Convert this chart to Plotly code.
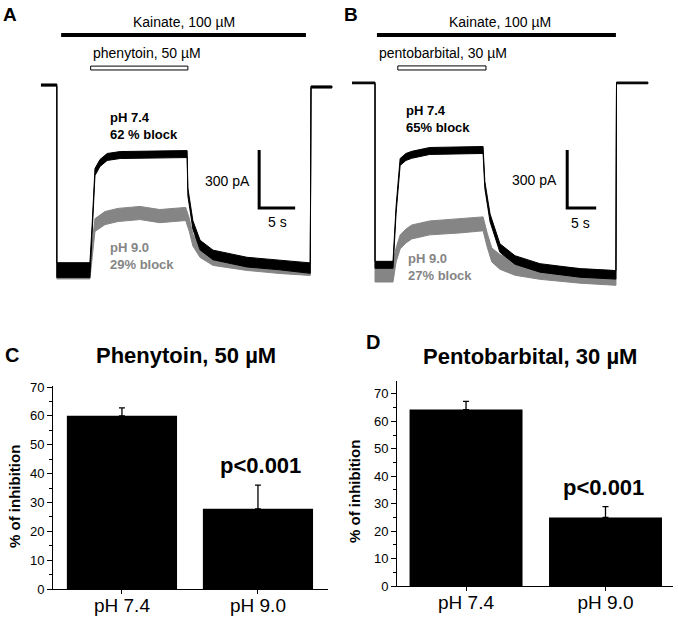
import plotly.graph_objects as go

W, H = 678, 619
FONT = "Liberation Sans, Arial, sans-serif"
GRAY = "#858585"

# ---- data ----
# panel A traces: time (s), current (pA), noise half-width (pA)
A_BLACK_T = [0, 2.2, 2.2, 6.8, 7.1, 7.5, 8.2, 9.2, 11.0, 15.0, 20.3, 20.4, 21.1, 22.1, 23.9, 28.6, 33.2, 37.4, 37.5, 40.4]
A_BLACK_I = [0, 0, -957, -957, -750, -450, -403, -372, -362, -360, -357, -553, -724, -828, -879, -916, -931, -947, -10, -10]
A_BLACK_N = [5, 5, 38, 38, 22, 18, 18, 18, 18, 18, 18, 20, 22, 25, 25, 25, 25, 27, 5, 5]
A_GRAY_T = [0, 2.2, 2.2, 6.8, 7.1, 7.5, 8.9, 10.7, 13.75, 16.5, 20.1, 20.6, 21.1, 22.1, 23.9, 28.6, 33.2, 37.4, 37.5, 40.4]
A_GRAY_I = [0, 0, -965, -965, -854, -724, -688, -672, -662, -678, -667, -724, -802, -864, -905, -931, -947, -957, -10, -10]
A_GRAY_N = [5, 5, 38, 38, 33, 33, 34, 34, 34, 34, 34, 34, 31, 28, 28, 28, 28, 28, 5, 5]

# panel B traces
B_BLACK_T = [0, 3.97, 3.97, 7.07, 7.6, 8.3, 9.3, 10.3, 13.4, 18.0, 22.6, 22.9, 23.8, 25.5, 28.1, 32.4, 39.3, 45.5, 45.6, 51.0]
B_BLACK_I = [0, 0, -941, -941, -657, -409, -383, -372, -352, -350, -347, -528, -698, -854, -916, -957, -983, -993, 0, 0]
B_BLACK_N = [4, 4, 18, 18, 18, 18, 18, 18, 18, 18, 18, 18, 20, 22, 22, 22, 22, 22, 4, 4]
B_GRAY_T = [0, 3.97, 3.97, 7.07, 7.6, 8.3, 9.3, 10.3, 13.4, 18.6, 22.6, 23.3, 24.1, 25.5, 28.1, 32.4, 39.3, 45.5, 45.6, 51.0]
B_GRAY_I = [0, 0, -978, -978, -890, -823, -792, -771, -750, -740, -729, -812, -890, -926, -957, -978, -998, -1009, 0, 0]
B_GRAY_N = [4, 4, 52, 52, 36, 36, 36, 36, 36, 36, 36, 36, 36, 38, 38, 38, 38, 38, 4, 4]

# application windows (s)
KAINATE_A = [2.8, 36.8]
DRUG_A = [6.9, 20.4]
KAINATE_B = [4.3, 45.5]
DRUG_B = [7.9, 23.1]
SCALE_T = 5      # s
SCALE_I = 300    # pA

# bar charts
CATEGORIES = ["pH 7.4", "pH 9.0"]
PHENYTOIN_MEAN = [60.0, 27.8]
PHENYTOIN_SEM = [2.8, 8.2]
PENTOBARB_MEAN = [64.3, 25.0]
PENTOBARB_SEM = [3.0, 3.9]
Y_TICKS = [0, 10, 20, 30, 40, 50, 60, 70]


def px(x):
    return x / W


def py(y):
    return 1 - y / H


def band(t, i, n, color, xa, ya):
    upper = [a + b for a, b in zip(i, n)]
    lower = [a - b for a, b in zip(i, n)]
    return go.Scatter(x=t + t[::-1], y=upper + lower[::-1], mode="lines", fill="toself",
                      fillcolor=color, line={"color": color, "width": 1},
                      xaxis=xa, yaxis=ya, hoverinfo="skip", showlegend=False)


fig = go.Figure()
fig.add_trace(band(A_GRAY_T, A_GRAY_I, A_GRAY_N, GRAY, "x", "y"))
fig.add_trace(band(A_BLACK_T, A_BLACK_I, A_BLACK_N, "black", "x", "y"))
fig.add_trace(band(B_GRAY_T, B_GRAY_I, B_GRAY_N, GRAY, "x2", "y2"))
fig.add_trace(band(B_BLACK_T, B_BLACK_I, B_BLACK_N, "black", "x2", "y2"))

for mean, sem, xa, ya in [(PHENYTOIN_MEAN, PHENYTOIN_SEM, "x3", "y3"), (PENTOBARB_MEAN, PENTOBARB_SEM, "x4", "y4")]:
    fig.add_trace(go.Bar(x=[0, 1], y=mean, width=0.81, marker={"color": "black", "line": {"width": 0}},
                         error_y={"type": "data", "array": sem, "arrayminus": [0, 0], "symmetric": False,
                                  "color": "black", "thickness": 1.3, "width": 3},
                         xaxis=xa, yaxis=ya, showlegend=False))

hidden = {"visible": False, "fixedrange": True, "automargin": False}
bar_x = {"tickvals": [0, 1], "ticktext": CATEGORIES, "showline": True, "linecolor": "black", "linewidth": 1,
         "ticks": "outside", "ticklen": 4, "tickcolor": "black", "showgrid": False, "zeroline": False,
         "automargin": False, "fixedrange": True, "ticklabelstandoff": -5,
         "tickfont": {"size": 19, "color": "black"}}
bar_y = {"tickvals": Y_TICKS, "showline": True, "linecolor": "black", "linewidth": 1, "ticks": "outside",
         "ticklen": 5, "tickcolor": "black", "showgrid": False, "zeroline": False,
         "automargin": False, "fixedrange": True,
         "minor": {"dtick": 5, "ticks": "outside", "ticklen": 3, "tickcolor": "black"},
         "tickfont": {"size": 13, "color": "black"}}

fig.update_layout(
    width=W, height=H, autosize=False, margin={"l": 0, "r": 0, "t": 0, "b": 0, "pad": 0, "autoexpand": False},
    paper_bgcolor="white", plot_bgcolor="white", showlegend=False,
    font={"family": FONT, "color": "black"},
    xaxis={**hidden, "domain": [0, 0.5], "range": [-5.69, 41.39]},
    yaxis={**hidden, "domain": [py(300), 1], "range": [-1112, 440]},
    xaxis2={**hidden, "domain": [0.5, 1], "range": [-2.24, 56.2]},
    yaxis2={**hidden, "domain": [py(300), 1], "range": [-1123, 429]},
    xaxis3={**bar_x, "domain": [px(53), px(328)], "range": [-0.507, 1.515]},
    yaxis3={**bar_y, "domain": [py(589), py(386)], "range": [0, 70.35], "anchor": "x3"},
    xaxis4={**bar_x, "domain": [px(397), px(673)], "range": [-0.495, 1.484]},
    yaxis4={**bar_y, "domain": [py(586), py(381)], "range": [0, 74.7], "anchor": "x4"},
)
fig.update_layout(xaxis3_anchor="y3", xaxis4_anchor="y4")

shapes = []
# application bars and scale bars for A and B
for xr, yr, kain, drug, k_y, d_y, sx, sy in [
    ("x", "y", KAINATE_A, DRUG_A, 259, [98, 78], 30.3, -636),
    ("x2", "y2", KAINATE_B, DRUG_B, 248, [88, 67], 37.1, -647),
]:
    shapes.append({"type": "line", "xref": xr, "yref": yr, "x0": kain[0], "x1": kain[1], "y0": k_y, "y1": k_y,
                   "line": {"color": "black", "width": 4}})
    shapes.append({"type": "rect", "xref": xr, "yref": yr, "x0": drug[0], "x1": drug[1], "y0": d_y[1], "y1": d_y[0],
                   "fillcolor": "white", "line": {"color": "black", "width": 1}})
    shapes.append({"type": "path", "xref": xr, "yref": yr,
                   "path": f"M {sx} {sy + SCALE_I} L {sx} {sy} L {sx + SCALE_T} {sy}",
                   "line": {"color": "black", "width": 3}})
fig.update_layout(shapes=shapes)


def note(text, x, y, size, bold=False, color="black", xanchor="center", angle=0, align="center"):
    if bold:
        text = f"<b>{text}</b>"
    fig.add_annotation(text=text, x=px(x), y=py(y), xref="paper", yref="paper", showarrow=False,
                       xanchor=xanchor, yanchor="middle", align=align, textangle=angle,
                       font={"size": size, "color": color, "family": FONT})


note("A", 10, 14, 19, bold=True)
note("B", 351, 14, 19, bold=True)
note("Kainate, 100 µM", 184, 22, 14)
note("Kainate, 100 µM", 500, 22, 14)
note("phenytoin, 50 µM", 91, 53, 14, xanchor="left")
note("pentobarbital, 30 µM", 377, 53, 14, xanchor="left")
note("pH 7.4<br>62 % block", 108, 126, 13, bold=True, xanchor="left", align="left")
note("pH 9.0<br>29% block", 108, 256, 13, bold=True, color=GRAY, xanchor="left", align="left")
note("pH 7.4<br>65% block", 404, 119, 13, bold=True, xanchor="left", align="left")
note("pH 9.0<br>27% block", 406, 267, 13, bold=True, color=GRAY, xanchor="left", align="left")
note("300 pA", 252, 181, 14, xanchor="right")
note("5 s", 277, 222, 14)
note("300 pA", 559, 180, 14, xanchor="right")
note("5 s", 580, 223, 14)

note("C", 12, 355, 20, bold=True)
note("D", 373, 342, 20, bold=True)
note("Phenytoin, 50 µM", 186, 355, 22, bold=True)
note("Pentobarbital, 30 µM", 530, 356, 22, bold=True)
note("p<0.001", 260, 465, 22, bold=True)
note("p<0.001", 603, 487, 22, bold=True)
note("% of inhibition", 14, 497, 15, bold=True, angle=-90)
note("% of inhibition", 354, 492, 15, bold=True, angle=-90)

fig.write_html("out.html", config={"displayModeBar": False},
               post_script="document.body.style.margin='0px';document.body.style.overflow='hidden';")
